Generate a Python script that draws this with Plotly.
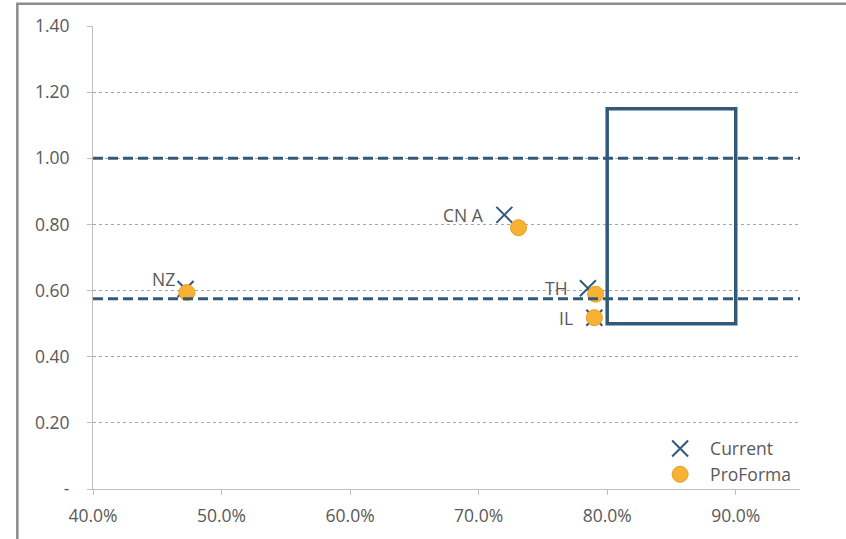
import plotly.graph_objects as go

# ---- data ----
labels = ["NZ", "CN A", "TH", "IL"]
current_x = [0.472, 0.720, 0.785, 0.790]
current_y = [0.605, 0.829, 0.607, 0.518]
proforma_x = [0.473, 0.731, 0.791, 0.790]
proforma_y = [0.594, 0.790, 0.589, 0.518]

threshold_y = [1.00, 0.575]
box_x = [0.80, 0.90]
box_y = [0.50, 1.15]

x_ticks = [0.4, 0.5, 0.6, 0.7, 0.8, 0.9]
x_tick_text = ["40.0%", "50.0%", "60.0%", "70.0%", "80.0%", "90.0%"]
y_ticks = [0, 0.2, 0.4, 0.6, 0.8, 1.0, 1.2, 1.4]
y_tick_text = ["-", "0.20", "0.40", "0.60", "0.80", "1.00", "1.20", "1.40"]

# label placement offsets (pixels) relative to the Current marker
label_xshift = [-9, -18, -18, -19]
label_yshift = [10, 0, 0, 0]

dark = "#33597A"
orange = "#F7B234"
font_fam = "Open Sans, Noto Sans, sans-serif"
txt_col = "#595959"
fs = 17.5

fig = go.Figure()

fig.add_trace(go.Scatter(
    x=current_x, y=current_y, mode="markers", name="Current",
    marker=dict(symbol="x-thin-open", size=16, line=dict(width=2, color=dark), color=dark),
))
fig.add_trace(go.Scatter(
    x=proforma_x, y=proforma_y, mode="markers", name="ProForma",
    marker=dict(symbol="circle", size=16, color=orange, line=dict(width=1, color="#E8A020")),
))

annotations = []
for t, xv, yv, xs, ys in zip(labels, current_x, current_y, label_xshift, label_yshift):
    annotations.append(dict(x=xv, y=yv, xref="x", yref="y", text=t, showarrow=False,
                            xanchor="right", yanchor="middle", xshift=xs, yshift=ys,
                            font=dict(family=font_fam, size=fs, color=txt_col)))

shapes = []
for ty in threshold_y:
    shapes.append(dict(type="line", xref="paper", yref="y", x0=0, x1=1, y0=ty, y1=ty,
                       line=dict(color=dark, width=3, dash="10px,5px"), layer="above"))
shapes.append(dict(type="rect", xref="x", yref="y", x0=box_x[0], x1=box_x[1], y0=box_y[0], y1=box_y[1],
                   line=dict(color=dark, width=3.5), fillcolor="rgba(0,0,0,0)", layer="above"))
# outer chart frame (top and left edges visible)
shapes.append(dict(type="rect", xref="paper", yref="paper", x0=-0.107, x1=1.2, y0=-0.3, y1=1.048,
                   line=dict(color="#8C8C8C", width=2.5), fillcolor="rgba(0,0,0,0)", layer="below"))

fig.update_layout(
    width=846, height=539,
    margin=dict(l=93, r=46, t=26, b=44),
    paper_bgcolor="white", plot_bgcolor="white",
    shapes=shapes, annotations=annotations,
    showlegend=True,
    legend=dict(x=0.788, y=0.126, xanchor="left", yanchor="top",
                font=dict(family=font_fam, size=fs, color=txt_col),
                bgcolor="rgba(0,0,0,0)", itemwidth=50, tracegroupgap=0),
    font=dict(family=font_fam, color=txt_col),
)
fig.update_xaxes(range=[0.4, 0.95], tickvals=x_ticks, ticktext=x_tick_text,
                 showgrid=False, zeroline=False, showline=True, linecolor="#BFBFBF", linewidth=1,
                 ticks="outside", ticklen=5, tickcolor="#BFBFBF", ticklabelstandoff=6,
                 tickfont=dict(family=font_fam, size=fs, color=txt_col))
fig.update_yaxes(range=[0, 1.4], tickvals=y_ticks, ticktext=y_tick_text,
                 showgrid=True, gridcolor="#A6A6A6", griddash="dot", gridwidth=1,
                 zeroline=False, showline=True, linecolor="#BFBFBF", linewidth=1,
                 ticks="outside", ticklen=5, tickcolor="#BFBFBF", ticklabelstandoff=14,
                 tickfont=dict(family=font_fam, size=fs, color=txt_col))

fig.write_html("out.html", config={"displayModeBar": False},
               post_script="document.body.style.margin='0';document.body.style.overflow='hidden';")
